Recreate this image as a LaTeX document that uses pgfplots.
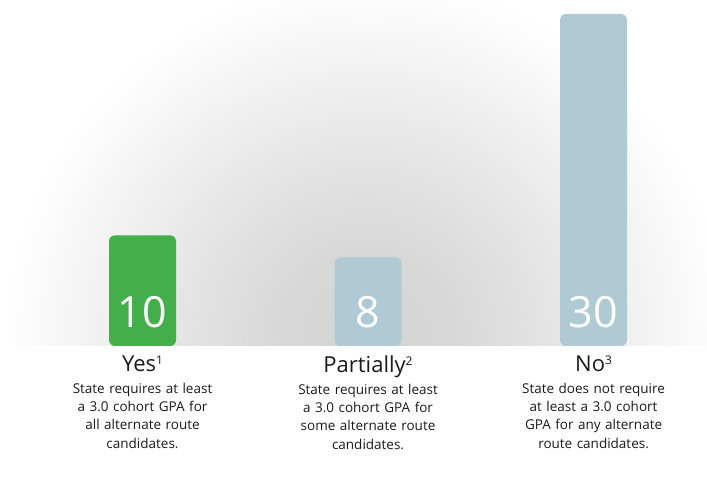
\documentclass[border=0pt]{standalone}
\usepackage{fontspec}
\setmainfont{Open Sans}
\usepackage{pgfplots}
\pgfplotsset{compat=1.18}
\definecolor{barGreen}{HTML}{43AE4A}
\definecolor{barBlue}{HTML}{B0CAD5}
\definecolor{txt}{HTML}{1A1A1A}
\pgfdeclareradialshading{glow}{\pgfpoint{0bp}{0bp}}{color(0bp)=(black!17); color(6bp)=(black!15.5); color(12.5bp)=(black!10.5); color(19bp)=(black!5); color(23bp)=(black!1.5); color(25bp)=(white); color(50bp)=(white)}
\newcommand{\supnum}[1]{\raisebox{7pt}{\fontsize{12}{12}\selectfont #1}}

\begin{document}
\begin{tikzpicture}[x=1pt,y=1pt]
\useasboundingbox (0,0) rectangle (707,481);
\begin{scope}
\clip (0,135) rectangle (707,481);
\shade[shading=glow] (366,140) circle (365);
\end{scope}
\begin{axis}[
  at={(0pt,135pt)}, anchor=south west,
  scale only axis, width=707pt, height=346pt,
  xmin=-0.632, xmax=2.503, ymin=0, ymax=31.26,
  y coord trafo/.code={\pgfmathparse{#1+1}},
  y coord inv trafo/.code={\pgfmathparse{#1-1}},
  clip=true,
  axis line style={draw=none}, tick style={draw=none},
  ytick=\empty, xtick={0,1,2},
  xticklabels={
    {{\fontsize{22}{24}\selectfont Yes\supnum{1}}\\[3pt]State requires at least\\a 3.0 cohort GPA for\\all alternate route\\candidates.},
    {{\fontsize{22}{24}\selectfont Partially\supnum{2}}\\[3pt]State requires at least\\a 3.0 cohort GPA for\\some alternate route\\candidates.},
    {{\fontsize{22}{24}\selectfont No\supnum{3}}\\[3pt]State does not require\\at least a 3.0 cohort\\GPA for any alternate\\route candidates.}
  },
  xticklabel style={anchor=north, text width=190pt, align=center, text=txt,
    font=\fontsize{13.5}{18.3}\selectfont, inner sep=0pt, yshift=-10pt},
]
\addplot[ybar, bar width=67pt, bar shift=0pt, fill=barGreen, draw=none, rounded corners=6pt]
  coordinates {(0,10)};
\addplot[ybar, bar width=67pt, bar shift=0pt, fill=barBlue, draw=none, rounded corners=6pt]
  coordinates {(1,8) (2,30)};
\addplot[draw=none, mark=none, nodes near coords, point meta=explicit symbolic,
  every node near coord/.append style={anchor=base, yshift=18pt, text=white,
    font=\fontsize{43}{43}\selectfont, inner sep=0pt}]
  coordinates {(0,0)[10] (1,0)[8] (2,0)[30]};
\end{axis}
\end{tikzpicture}
\end{document}
